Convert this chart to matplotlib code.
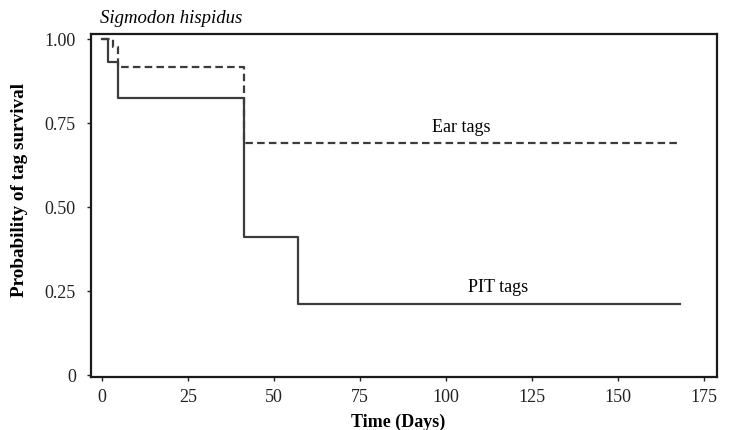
import matplotlib.pyplot as plt

# Kaplan-Meier style step data
pit_days = [0, 1.8, 4.7, 41.3, 57.0, 168]
pit_surv = [1.00, 0.93, 0.825, 0.41, 0.21, 0.21]
ear_days = [0, 3.3, 4.7, 41.3, 168]
ear_surv = [1.00, 0.975, 0.917, 0.69, 0.69]

xticks = [0, 25, 50, 75, 100, 125, 150, 175]
yticks = [0, 0.25, 0.50, 0.75, 1.00]
ylabels = ["0", "0.25", "0.50", "0.75", "1.00"]

plt.rcParams['font.family'] = ['Liberation Serif', 'DejaVu Serif']

fig = plt.figure(figsize=(7.3, 4.31), dpi=100)
ax = fig.add_axes([0.1247, 0.123, 0.8573, 0.796])

col = "#3c3c3c"
ax.step(pit_days, pit_surv, where="post", color=col, lw=1.6)
ax.step(ear_days, ear_surv, where="post", color=col, lw=1.6, linestyle=(0, (3.4, 1.9)))

ax.text(96, 0.738, "Ear tags", fontsize=13, ha="left", va="center")
ax.text(106.4, 0.262, "PIT tags", fontsize=13, ha="left", va="center")

ax.set_xlim(-3.2, 178.8)
ax.set_ylim(-0.006, 1.015)
ax.set_xticks(xticks)
ax.set_yticks(yticks)
ax.set_yticklabels(ylabels)
ax.tick_params(direction="out", length=3, width=1, labelsize=13, colors="#222222")
ax.tick_params(axis="y", pad=8)
ax.tick_params(axis="x", pad=5)
for s in ax.spines.values():
    s.set_linewidth(1.6)
    s.set_color("#1a1a1a")

ax.set_xlabel("Time (Days)", fontsize=13, fontweight="bold")
ax.xaxis.set_label_coords(0.49, -0.105)
ax.set_ylabel("Probability of tag survival", fontsize=13.8, fontweight="bold")
ax.yaxis.set_label_coords(-0.1, 0.548)
fig.text(0.137, 0.958, "Sigmodon hispidus", fontsize=13.5, style="italic", ha="left", va="center")

fig.savefig("out.png")
